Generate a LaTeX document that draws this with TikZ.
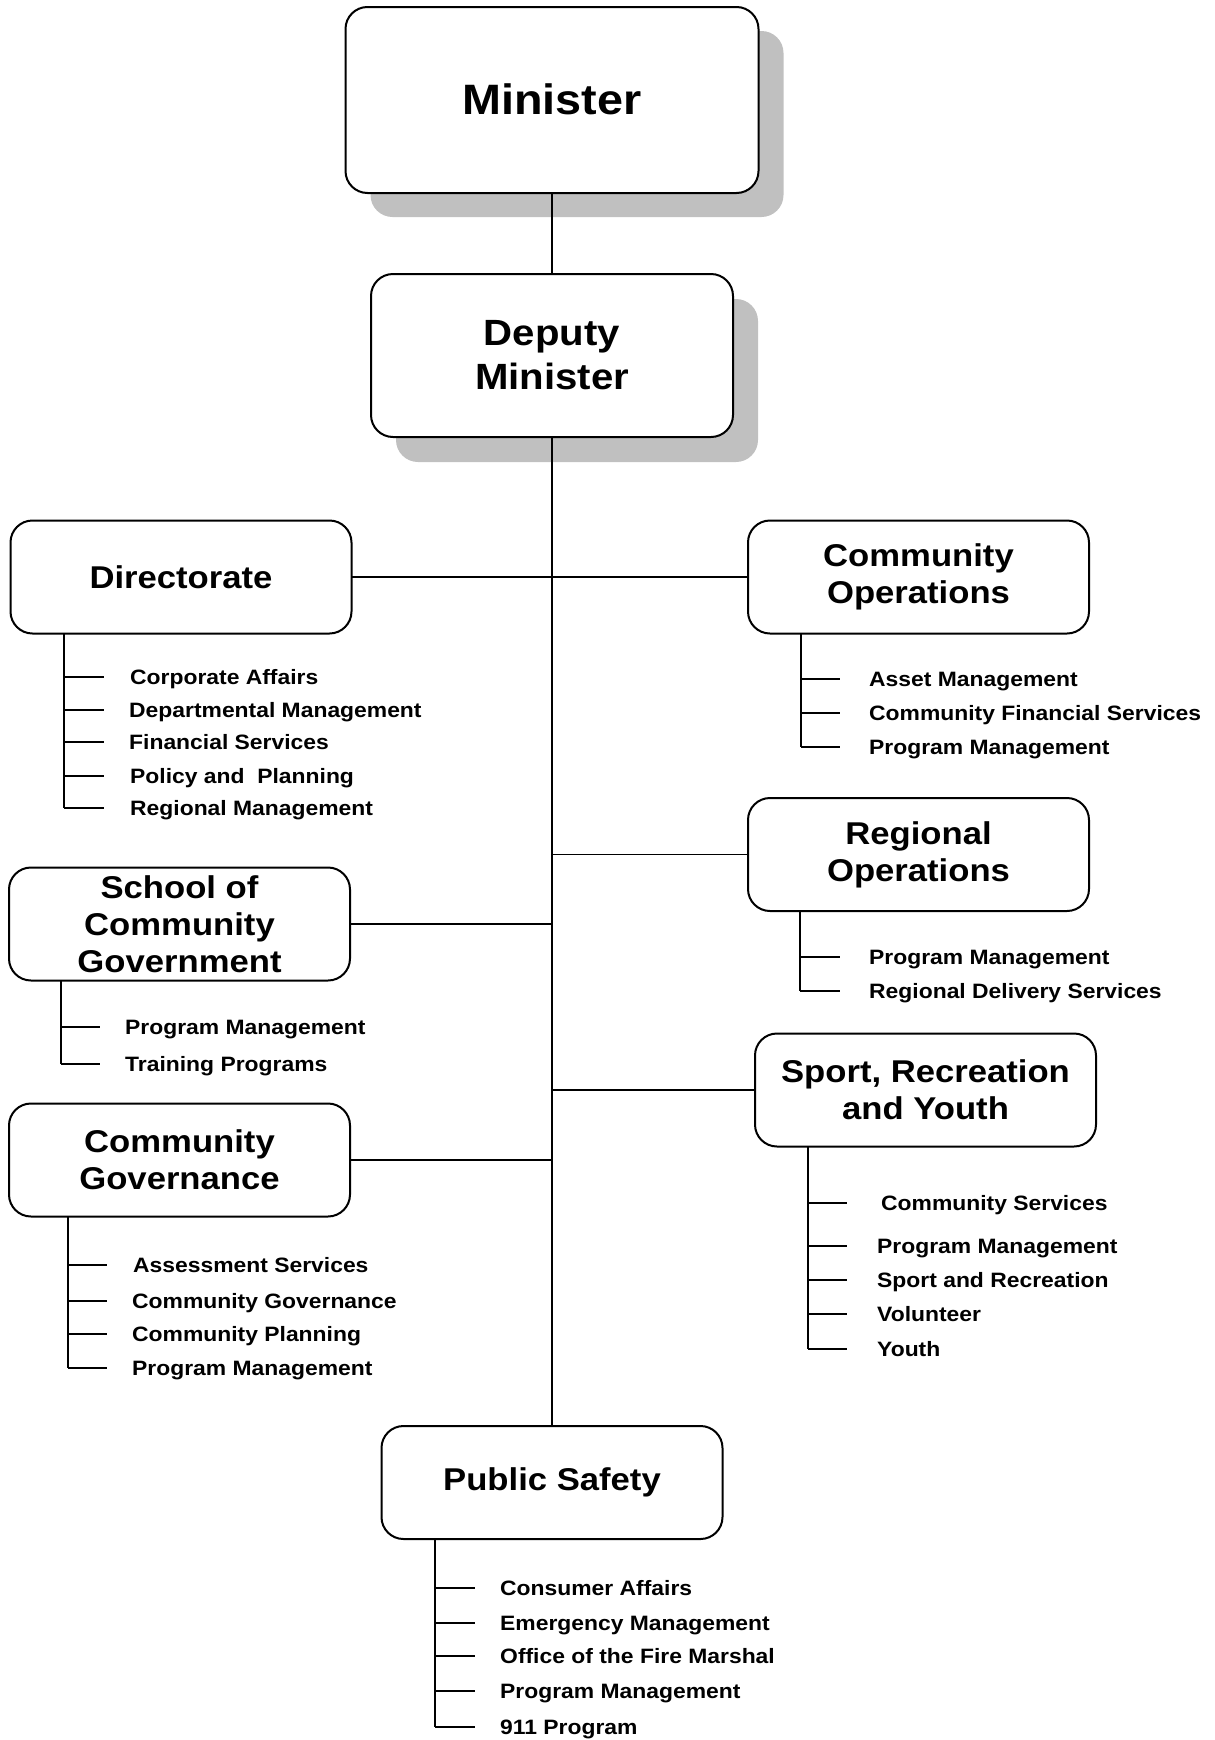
\documentclass[tikz,border=0pt]{standalone}
\usepackage{fontspec}
\setmainfont{Liberation Sans}[FakeStretch=1.1]
\usetikzlibrary{calc}
\definecolor{shadowgray}{RGB}{192,192,192}
\pgfdeclarelayer{bg}
\pgfsetlayers{bg,main}
\begin{document}
\begin{tikzpicture}[x=1pt,y=-1pt,
  box/.style={draw, line width=2pt, rounded corners=22pt, fill=white,
    minimum width=341pt, minimum height=113pt, inner sep=0pt, outer sep=0pt,
    align=center, font=\bfseries\fontsize{31.5}{37}\selectfont},
  item/.style={anchor=west, inner sep=0pt, text height=15pt, text depth=0pt,
    font=\bfseries\fontsize{20.8}{25}\selectfont},
  link/.style={line width=1.2pt},
  sub/.style={line width=2pt},
  shadowfill/.style={fill=shadowgray, rounded corners=22pt}]
\useasboundingbox (0,0) rectangle (1215,1740);

% top boxes
\node[box, minimum width=413pt, minimum height=186pt,
  font=\bfseries\fontsize{42.5}{48}\selectfont] (min) at (552,100) {\raisebox{2pt}{Minister}};
\node[box, minimum width=362pt, minimum height=163pt,
  font=\bfseries\fontsize{36.5}{44}\selectfont] (dm) at (552,355.5) {\raisebox{2pt}{Deputy}\\\raisebox{2pt}{Minister}};

\begin{pgfonlayer}{bg}
  \fill[shadowfill] ($(min.north west)+(25,24)$) rectangle ($(min.south east)+(25,24)$);
  \fill[shadowfill] ($(dm.north west)+(25,25)$) rectangle ($(dm.south east)+(25,25)$);
\end{pgfonlayer}

% division boxes
\node[box] (dir) at (181,577) {Directorate};
\node[box] (co) at (918.5,577) {Community\\Operations};
\node[box] (ro) at (918.5,854.5) {Regional\\Operations};
\node[box] (sc) at (179.5,924) {School of\\Community\\Government};
\node[box] (cg) at (179.5,1160) {Community\\Governance};
\node[box] (sp) at (925.5,1090) {Sport, Recreation\\and Youth};
\node[box] (ps) at (552,1482.5) {Public Safety};

% main connectors
\draw[link] (min) -- (dm);
\draw[link] (dm) -- (ps);
\draw[link] (dir) -- (co);
\draw[link] (ro.west) -- (ro.west -| dm.south);
\draw[link] (sc.east) -- (sc.east -| dm.south);
\draw[link] (sp.west) -- (sp.west -| dm.south);
\draw[link] (cg.east) -- (cg.east -| dm.south);

% Directorate
\coordinate (dirv) at ($(dir.south west)+(53,0)$);
\node[item] (dir1) at (130,677) {Corporate Affairs};
\node[item] (dir2) at (129,710) {Departmental Management};
\node[item] (dir3) at (129,742) {Financial Services};
\node[item] (dir4) at (130,776) {Policy and\ \ Planning};
\node[item] (dir5) at (130,808) {Regional Management};
\draw[sub] (dirv) -- (dirv |- dir5.west);
\foreach \n in {dir1,dir2,dir3,dir4,dir5} \draw[sub] (dirv |- \n.west) -- ++(40,0);

% Community Operations
\coordinate (cov) at ($(co.south west)+(53,0)$);
\node[item] (co1) at (869,679) {Asset Management};
\node[item] (co2) at (869,713) {Community Financial Services};
\node[item] (co3) at (869,747) {Program Management};
\draw[sub] (cov) -- (cov |- co3.west);
\foreach \n in {co1,co2,co3} \draw[sub] (cov |- \n.west) -- ++(39,0);

% Regional Operations
\coordinate (rov) at ($(ro.south west)+(52,0)$);
\node[item] (ro1) at (869,957) {Program Management};
\node[item] (ro2) at (869,991) {Regional Delivery Services};
\draw[sub] (rov) -- (rov |- ro2.west);
\foreach \n in {ro1,ro2} \draw[sub] (rov |- \n.west) -- ++(40,0);

% School of Community Government
\coordinate (scv) at ($(sc.south west)+(52,0)$);
\node[item] (sc1) at (125,1027) {Program Management};
\node[item] (sc2) at (125,1064) {Training Programs};
\draw[sub] (scv) -- (scv |- sc2.west);
\foreach \n in {sc1,sc2} \draw[sub] (scv |- \n.west) -- ++(39,0);

% Community Governance
\coordinate (cgv) at ($(cg.south west)+(59,0)$);
\node[item] (cg1) at (133,1265) {Assessment Services};
\node[item] (cg2) at (132,1301) {Community Governance};
\node[item] (cg3) at (132,1334) {Community Planning};
\node[item] (cg4) at (132,1368) {Program Management};
\draw[sub] (cgv) -- (cgv |- cg4.west);
\foreach \n in {cg1,cg2,cg3,cg4} \draw[sub] (cgv |- \n.west) -- ++(39,0);

% Sport, Recreation and Youth
\coordinate (spv) at ($(sp.south west)+(53,0)$);
\node[item] (sp1) at (881,1203) {Community Services};
\node[item] (sp2) at (877,1246) {Program Management};
\node[item] (sp3) at (877,1280) {Sport and Recreation};
\node[item] (sp4) at (877,1314) {Volunteer};
\node[item] (sp5) at (877,1349) {Youth};
\draw[sub] (spv) -- (spv |- sp5.west);
\foreach \n in {sp1,sp2,sp3,sp4,sp5} \draw[sub] (spv |- \n.west) -- ++(39,0);

% Public Safety
\coordinate (psv) at ($(ps.south west)+(53.5,0)$);
\node[item] (ps1) at (500,1588) {Consumer Affairs};
\node[item] (ps2) at (500,1623) {Emergency Management};
\node[item] (ps3) at (500,1656) {Office of the Fire Marshal};
\node[item] (ps4) at (500,1691) {Program Management};
\node[item] (ps5) at (500,1727) {911 Program};
\draw[sub] (psv) -- (psv |- ps5.west);
\foreach \n in {ps1,ps2,ps3,ps4,ps5} \draw[sub] (psv |- \n.west) -- ++(40,0);
\end{tikzpicture}
\end{document}
